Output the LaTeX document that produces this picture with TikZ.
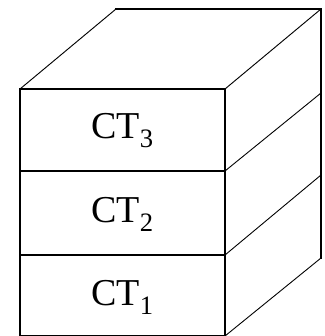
\documentclass[tikz,border=0pt]{standalone}
\usepackage{fontspec}
\setmainfont{Liberation Serif}
\begin{document}
\begin{tikzpicture}[x=1pt,y=-1pt,
  edge/.style={line width=1.6pt, line cap=rect},
  oblique/.style={line width=0.9pt},
  lbl/.style={font=\fontsize{38}{40}\selectfont, inner sep=0pt}]
\useasboundingbox (0,0) rectangle (324,336);
% front face corners
\coordinate (f1) at (20,89);
\coordinate (f2) at (225,89);
\coordinate (d1l) at (20,171);
\coordinate (d1r) at (225,171);
\coordinate (d2l) at (20,255);
\coordinate (d2r) at (225,255);
\coordinate (bl) at (20,336);
\coordinate (br) at (225,336);
% back corners
\coordinate (b1) at (116,9);
\coordinate (b2) at (321,9);
\coordinate (b3) at (321,93);
\coordinate (b4) at (321,175);
\coordinate (b5) at (321,258);
% front face
\draw[edge] (bl) -- (f1) -- (f2) -- (br);
\draw[edge] (d1l) -- (d1r);
\draw[edge] (d2l) -- (d2r);
\draw[edge] (bl) -- (br);
% top and right back edges
\draw[edge] (b1) -- (b2) -- (b5);
% oblique edges
\draw[oblique] (f1) -- (b1);
\draw[oblique] (f2) -- (b2);
\draw[oblique] (d1r) -- (b3);
\draw[oblique] (d2r) -- (b4);
\draw[oblique] (br) -- (b5);
% labels
\node[lbl] (ct3) at (122.5,131) {CT\textsubscript{3}};
\node[lbl] (ct2) at (122.5,214) {CT\textsubscript{2}};
\node[lbl] (ct1) at (122.5,297) {CT\textsubscript{1}};
\end{tikzpicture}
\end{document}
